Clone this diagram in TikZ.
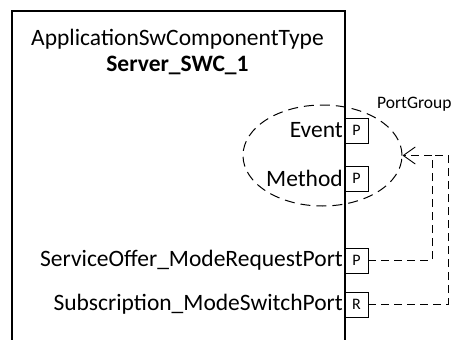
\documentclass[tikz,border=0pt]{standalone}
\usepackage{fontspec}
\setmainfont{Carlito}
\usetikzlibrary{arrows.meta,shapes.geometric}
\begin{document}
\begin{tikzpicture}[x=1pt,y=-1pt,
  port/.style={draw,line width=0.8pt,minimum width=23pt,minimum height=25pt,inner sep=0pt,font=\fontsize{16}{18}\selectfont},
  lbl/.style={anchor=east,inner sep=0pt,font=\fontsize{23.5}{27}\selectfont},
  conn/.style={line width=0.9pt,dash pattern=on 8pt off 5pt},
  grpline/.style={line width=1pt,dash pattern=on 10pt off 6pt},
  title/.style={inner sep=0pt,font=\fontsize{23.5}{27}\selectfont}]
\useasboundingbox (0,0) rectangle (451,340);
% component box (open at bottom)
\coordinate (bl) at (12,340);
\coordinate (tl) at (12,11);
\coordinate (tr) at (345,11);
\coordinate (br) at (345,340);
\draw[line width=1.8pt] (bl) -- (tl) -- (tr) -- (br);
\node[title] (type) at (177.5,39) {ApplicationSwComponentType};
\node[title,font=\fontsize{23.5}{27}\selectfont\bfseries] (name) at (177.5,65) {Server\_SWC\_1};
% ports
\node[port] (pev) at (356.5,130.5) {P};
\node[port] (pme) at (356.5,178.5) {P};
\node[port] (pso) at (356.5,260.5) {P};
\node[port] (rss) at (356.5,304.5) {R};
\node[lbl] (lev) at (343,130.5) {Event};
\node[lbl] (lme) at (343,178.5) {Method};
\node[lbl] (lso) at (343,260.5) {ServiceOffer\_ModeRequestPort};
\node[lbl] (lss) at (343,304.5) {Subscription\_ModeSwitchPort};
% port group
\node[ellipse,draw,grpline,minimum width=159pt,minimum height=101pt,inner sep=0pt] (grp) at (322.5,155.5) {};
\node[anchor=west,inner sep=0pt,font=\fontsize{17.5}{20}\selectfont] (pg) at (377,104) {PortGroup};
\coordinate (j1) at (432,155.5);
\coordinate (j2) at (448,155.5);
\draw[conn] (rss.east) -| (j2) -- (j1);
\draw[conn,-{Straight Barb[length=12pt,width=17pt,line width=0.9pt]}] (pso.east) -| (j1) -- (grp.east);
\end{tikzpicture}
\end{document}
